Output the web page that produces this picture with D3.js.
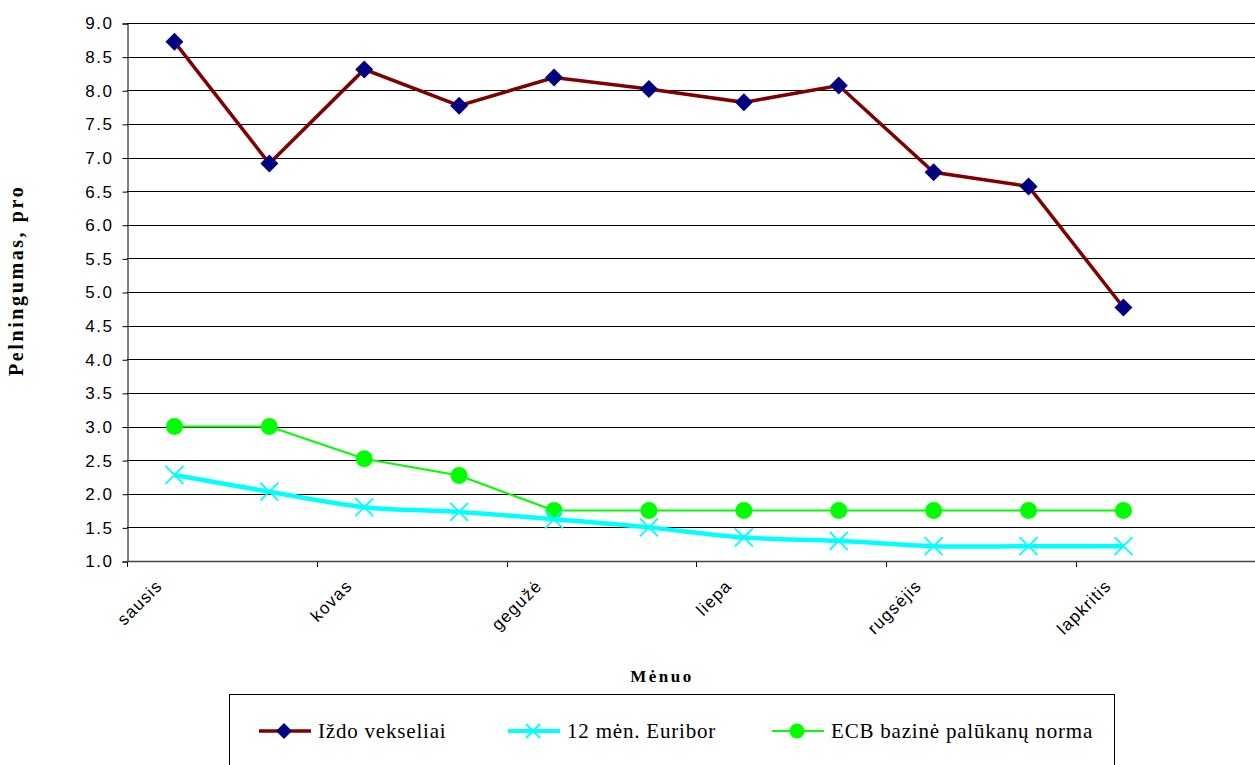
<html>
<head>
<meta charset="utf-8">
<script src="https://cdn.jsdelivr.net/npm/d3@7"></script>
<style>
body { margin: 0; background: #fff; }
</style>
</head>
<body>
<script>

// data
var months = ["sausis", "vasaris", "kovas", "balandis", "gegužė", "birželis", "liepa",
  "rugpjūtis", "rugsėjis", "spalis", "lapkritis", "gruodis"]
var izdo    = [8.72, 6.91, 8.31, 7.77, 8.19, 8.02, 7.82, 8.07, 6.78, 6.57, 4.77]
var euribor = [2.28, 2.03, 1.80, 1.73, 1.62, 1.50, 1.35, 1.30, 1.22, 1.22, 1.22]
var ecb     = [3.00, 3.00, 2.52, 2.27, 1.75, 1.75, 1.75, 1.75, 1.75, 1.75, 1.75]
var yTicks  = [1.0, 1.5, 2.0, 2.5, 3.0, 3.5, 4.0, 4.5, 5.0, 5.5, 6.0, 6.5, 7.0, 7.5, 8.0, 8.5, 9.0]
var seriesNames = ["Iždo vekseliai", "12 mėn. Euribor", "ECB bazinė palūkanų norma"]

var W = 1255, H = 765
var pLeft = 127, pTop = 23, pBottom = 561
var catW = 94.9

var svg = d3.select("body").append("svg").attr("width", W).attr("height", H)

var x = d3.scaleBand().domain(months).range([pLeft, pLeft + catW * months.length])
var y = d3.scaleLinear().domain([1, 9]).range([pBottom, pTop])
var cx = function(i) { return x(months[i]) + x.bandwidth() / 2 }

// gridlines
svg.append("g").selectAll("line")
  .data(yTicks.slice(1))
  .enter().append("line")
  .attr("x1", pLeft).attr("x2", W)
  .attr("y1", function(d) { return Math.round(y(d)) + 0.5 })
  .attr("y2", function(d) { return Math.round(y(d)) + 0.5 })
  .attr("stroke", "#000").attr("stroke-width", 1)

// y axis
var yAxis = svg.append("g")
  .attr("transform", "translate(" + (pLeft + 0.5) + ",0.5)")
  .call(d3.axisLeft(y).tickValues(yTicks).tickFormat(d3.format(".1f")).tickSize(5).tickPadding(9))
yAxis.select(".domain").attr("stroke", "#000")
yAxis.selectAll(".tick line").attr("stroke", "#000")
yAxis.selectAll("text")
  .attr("font-family", "Liberation Sans, Arial, sans-serif")
  .attr("font-size", "17px").attr("fill", "#000")
  .style("letter-spacing", "1.5px")

// x axis
var xAxisG = svg.append("g")
svg.append("line")
  .attr("x1", pLeft).attr("x2", W)
  .attr("y1", pBottom + 0.5).attr("y2", pBottom + 0.5)
  .attr("stroke", "#444").attr("stroke-width", 1.5)
xAxisG.selectAll("line")
  .data(months.filter(function(d, i) { return i % 2 == 0 }))
  .enter().append("line")
  .attr("x1", function(d) { return Math.round(x(d)) + 0.5 })
  .attr("x2", function(d) { return Math.round(x(d)) + 0.5 })
  .attr("y1", pBottom).attr("y2", pBottom + 6)
  .attr("stroke", "#000")
xAxisG.selectAll("text")
  .data(months.filter(function(d, i) { return i % 2 == 0 }))
  .enter().append("text")
  .attr("transform", function(d) {
    return "translate(" + (x(d) + x.bandwidth() / 2 - 11) + "," + (pBottom + 26) + ") rotate(-45)"
  })
  .attr("text-anchor", "end")
  .attr("font-family", "Liberation Sans, Arial, sans-serif")
  .attr("font-size", "17px")
  .style("letter-spacing", "1.2px")
  .text(function(d) { return d })

// lines
var idx = d3.range(izdo.length)
var lineOf = function(vals, curve) {
  return d3.line().x(function(i) { return cx(i) }).y(function(i) { return y(vals[i]) }).curve(curve)(idx)
}

svg.append("path").attr("d", lineOf(ecb, d3.curveLinear))
  .attr("fill", "none").attr("stroke", "#00ff00").attr("stroke-width", 2)
svg.selectAll(".ecbdot").data(idx).enter().append("circle")
  .attr("cx", function(i) { return cx(i) }).attr("cy", function(i) { return y(ecb[i]) })
  .attr("r", 8.5).attr("fill", "#00ff00")

svg.append("path").attr("d", lineOf(euribor, d3.curveCatmullRom))
  .attr("fill", "none").attr("stroke", "#00ffff").attr("stroke-width", 4.5)
var xmark = function(g, s) {
  g.append("path").attr("d", "M" + (-s) + "," + (-s) + "L" + s + "," + s + "M" + (-s) + "," + s + "L" + s + "," + (-s))
    .attr("stroke", "#00ffff").attr("stroke-width", 1.8).attr("fill", "none")
}
svg.selectAll(".eurx").data(idx).enter().append("g")
  .attr("transform", function(i) { return "translate(" + cx(i) + "," + y(euribor[i]) + ")" })
  .each(function() { xmark(d3.select(this), 9) })

svg.append("path").attr("d", lineOf(izdo, d3.curveLinear))
  .attr("fill", "none").attr("stroke", "#800000").attr("stroke-width", 3.5)
svg.selectAll(".izd").data(idx).enter().append("path")
  .attr("transform", function(i) { return "translate(" + cx(i) + "," + y(izdo[i]) + ")" })
  .attr("d", "M0,-9L9,0L0,9L-9,0Z").attr("fill", "#000080")

// axis titles (y title is cut at the top like in the original)
svg.append("clipPath").attr("id", "ytclip")
  .append("rect").attr("x", 0).attr("y", 188).attr("width", 60).attr("height", 300)
svg.append("g").attr("clip-path", "url(#ytclip)")
  .append("text")
  .attr("transform", "translate(23,376) rotate(-90)")
  .attr("font-family", "Liberation Serif, Times New Roman, serif")
  .attr("font-weight", "bold").attr("font-size", "20px")
  .style("letter-spacing", "2.6px")
  .text("Pelningumas, proc.")

svg.append("text")
  .attr("x", 662).attr("y", 682).attr("text-anchor", "middle")
  .attr("font-family", "Liberation Serif, Times New Roman, serif")
  .attr("font-weight", "bold").attr("font-size", "17px")
  .style("letter-spacing", "2.5px")
  .text("Mėnuo")

// legend
svg.append("rect").attr("x", 229.5).attr("y", 694.5).attr("width", 885).attr("height", 100)
  .attr("fill", "none").attr("stroke", "#000").attr("stroke-width", 1)

var legX = [259, 508, 772]
var lg = svg.selectAll(".leg").data(seriesNames).enter().append("g")
  .attr("transform", function(d, i) { return "translate(" + legX[i] + ",731)" })
lg.append("line").attr("x1", 0).attr("x2", 52)
  .attr("stroke", function(d, i) { return ["#800000", "#00ffff", "#00ff00"][i] })
  .attr("stroke-width", function(d, i) { return [3.5, 4, 2][i] })
lg.each(function(d, i) {
  var g = d3.select(this)
  if (i == 0) g.append("path").attr("transform", "translate(25,0)").attr("d", "M0,-8L8,0L0,8L-8,0Z").attr("fill", "#000080")
  if (i == 1) g.append("g").attr("transform", "translate(25,0)").call(function(s) { xmark(s, 7) })
  if (i == 2) g.append("circle").attr("cx", 25).attr("r", 7.5).attr("fill", "#00ff00")
})
lg.append("text").attr("x", 59).attr("y", 7)
  .attr("font-family", "Liberation Serif, Times New Roman, serif")
  .attr("font-size", "21px")
  .style("letter-spacing", "0.8px")
  .text(function(d) { return d })

</script>
</body>
</html>
